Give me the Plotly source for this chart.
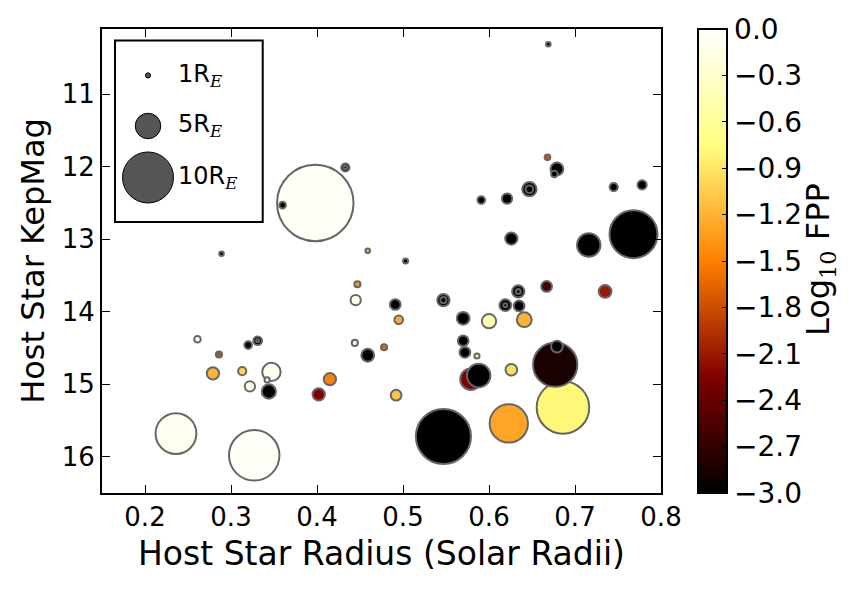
import plotly.graph_objects as go

# Host star radius (solar radii), KepMag, planet radius (R_E), log10 FPP
star_radius = [0.398, 0.433, 0.433, 0.360, 0.289, 0.459, 0.669, 0.668, 0.679, 0.676,
               0.647, 0.647, 0.621, 0.591, 0.745, 0.778, 0.768, 0.716, 0.626, 0.503,
               0.447, 0.445, 0.261, 0.320, 0.331, 0.331, 0.286, 0.279, 0.313, 0.347,
               0.342, 0.322, 0.344, 0.415, 0.402, 0.478, 0.459, 0.444, 0.236, 0.327,
               0.491, 0.495, 0.547, 0.547, 0.570, 0.600, 0.619, 0.619, 0.635, 0.634,
               0.634, 0.641, 0.667, 0.735, 0.570, 0.572, 0.586, 0.579, 0.588, 0.626,
               0.492, 0.686, 0.677, 0.679, 0.623, 0.547]
kepmag = [12.50, 12.01, 12.01, 12.53, 13.20, 13.16, 10.31, 11.87, 12.03, 12.10,
          12.31, 12.31, 12.44, 12.46, 12.28, 12.25, 12.93, 13.08, 12.99, 13.30,
          13.62, 13.84, 14.38, 14.46, 14.40, 14.40, 14.59, 14.85, 14.82, 14.83,
          14.94, 15.03, 15.10, 14.93, 15.14, 14.49, 14.60, 14.43, 15.68, 15.98,
          13.90, 14.11, 13.84, 13.84, 14.09, 14.13, 13.91, 13.91, 13.92, 13.72,
          13.72, 14.11, 13.65, 13.72, 14.40, 14.56, 14.61, 14.93, 14.88, 14.80,
          15.15, 15.32, 14.73, 14.48, 15.54, 15.72]
planet_radius = [15.0, 1.6, 0.7, 1.3, 0.9, 0.9, 0.9, 1.1, 2.5, 1.3,
                 2.8, 1.5, 2.0, 1.5, 1.6, 1.8, 9.4, 4.6, 2.4, 1.0,
                 1.2, 2.0, 1.3, 1.5, 1.7, 0.6, 1.2, 2.4, 1.6, 3.6,
                 1.0, 2.0, 2.8, 2.4, 2.4, 1.2, 2.5, 1.2, 8.0, 9.9,
                 2.1, 1.7, 2.4, 1.2, 2.5, 2.8, 2.3, 0.8, 2.1, 2.4,
                 1.0, 2.9, 2.1, 2.5, 2.1, 2.1, 1.0, 4.2, 4.6, 2.3,
                 2.1, 10.3, 8.7, 2.3, 7.5, 10.8]
log_fpp = [-0.06, -3.0, -3.0, -3.0, -3.0, -1.2, -3.0, -1.75, -3.0, -3.0,
           -3.0, -3.0, -3.0, -3.0, -3.0, -3.0, -3.0, -3.0, -3.0, -3.0,
           -1.35, -0.1, -0.1, -3.0, -3.0, -3.0, -1.8, -1.2, -1.0, -0.12,
           -0.12, -0.12, -3.0, -1.5, -2.25, -1.65, -3.0, -0.2, -0.1, -0.04,
           -3.0, -1.25, -3.0, -3.0, -3.0, -0.45, -3.0, -3.0, -3.0, -3.0,
           -3.0, -1.2, -2.6, -2.1, -3.0, -3.0, -0.8, -2.25, -3.0, -0.95,
           -1.1, -0.8, -2.85, -3.0, -1.28, -3.0]

legend_radii = [1, 5, 10]
SUB_E = "<sub><i><span style='font-family:DejaVu Serif'>E</span></i></sub>"
legend_labels = ["1R" + SUB_E, "5R" + SUB_E, "10R" + SUB_E]

cbar_ticks = [0.0, -0.3, -0.6, -0.9, -1.2, -1.5, -1.8, -2.1, -2.4, -2.7, -3.0]
cbar_title = "Log<sub><span style='font-family:DejaVu Serif'>10</span></sub> FPP"
x_ticks = [0.2, 0.3, 0.4, 0.5, 0.6, 0.7, 0.8]
y_ticks = [11, 12, 13, 14, 15, 16]

PX_PER_RE = 5.1
FONT = "DejaVu Sans"

afmhot = [[0.0, "rgb(0,0,0)"], [0.25, "rgb(128,0,0)"], [0.5, "rgb(255,128,0)"],
          [0.75, "rgb(255,255,128)"], [1.0, "rgb(255,255,255)"]]

def fmt(v):
    s = f"{abs(v):.1f}"
    return ("\u2212" + s) if v < 0 else s

fig = go.Figure()
fig.add_trace(go.Scatter(
    x=star_radius, y=kepmag, mode="markers",
    marker=dict(
        size=[r * PX_PER_RE for r in planet_radius], sizemode="diameter",
        color=log_fpp, colorscale=afmhot, cmin=-3, cmax=0, opacity=1,
        line=dict(color="#666666", width=2),
        colorbar=dict(
            x=1.067, xanchor="left", y=0.5, yanchor="middle", len=1.0, lenmode="fraction",
            thickness=29, outlinewidth=2, outlinecolor="black", xpad=0, ypad=0,
            tickvals=cbar_ticks, ticktext=[fmt(v) for v in cbar_ticks],
            ticks="inside", ticklen=6, tickcolor="black", tickwidth=1,
            tickfont=dict(family=FONT, size=28, color="black"),
        ),
    ),
    showlegend=False, hoverinfo="skip",
))

# colorbar label
fig.add_annotation(x=1.2845, y=0.502, xref="paper", yref="paper", text=cbar_title,
                   textangle=-90, showarrow=False, xanchor="center", yanchor="middle",
                   font=dict(family=FONT, size=32, color="black"))

# size legend on an overlay axis
leg_y = [0.9, 0.791, 0.680]
fig.add_trace(go.Scatter(
    x=[0.0823] * 3, y=leg_y, mode="markers", xaxis="x2", yaxis="y2",
    marker=dict(size=[r * PX_PER_RE for r in legend_radii], color="#555555", opacity=1,
                line=dict(color="black", width=1)),
    showlegend=False, hoverinfo="skip",
))
for lab, yy in zip(legend_labels, leg_y):
    fig.add_annotation(x=0.132, y=yy, xref="paper", yref="paper", text=lab,
                       showarrow=False, xanchor="left", yanchor="middle",
                       font=dict(family=FONT, size=24, color="black"))
fig.add_shape(type="rect", xref="paper", yref="paper", x0=0.0233, x1=0.2875,
              y0=0.584, y1=0.975, line=dict(color="black", width=2), fillcolor="rgba(0,0,0,0)")

axis_common = dict(showline=True, linecolor="black", linewidth=2, mirror="ticks",
                   ticks="inside", ticklen=8, tickwidth=1, tickcolor="black",
                   showgrid=False, zeroline=False,
                   tickfont=dict(family=FONT, size=26, color="black"))
fig.update_layout(
    width=858, height=589,
    margin=dict(l=102, r=197, t=29, b=96),
    plot_bgcolor="white", paper_bgcolor="white",
    xaxis=dict(range=[0.15, 0.8], tickvals=x_ticks, ticktext=[f"{v:.1f}" for v in x_ticks],
               title=dict(text="Host Star Radius (Solar Radii)", standoff=11,
                          font=dict(family=FONT, size=33, color="black")),
               **axis_common),
    yaxis=dict(range=[16.5, 10.1], tickvals=y_ticks,
               title=dict(text="Host Star KepMag", standoff=8,
                          font=dict(family=FONT, size=32, color="black")),
               **axis_common),
    xaxis2=dict(range=[0, 1], overlaying="x", visible=False),
    yaxis2=dict(range=[0, 1], overlaying="y", visible=False),
)

fig.write_html("out.html")
